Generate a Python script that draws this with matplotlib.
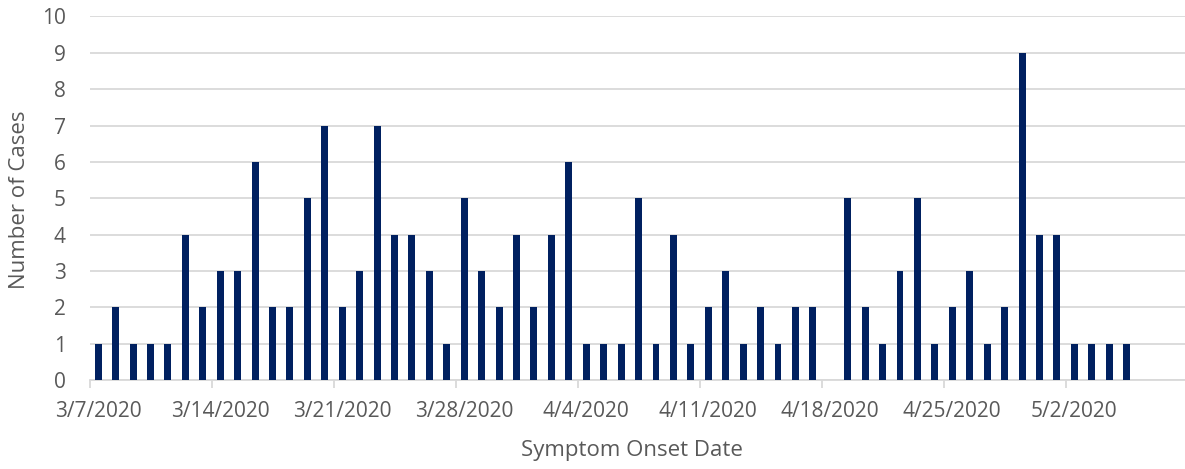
import numpy as np
import pandas as pd
import matplotlib
matplotlib.use('Agg')
from matplotlib import pyplot as plt

plt.rcParams['font.family'] = ['Open Sans', 'DejaVu Sans']

start = '2020-03-07'
cases = [1, 2, 1, 1, 1, 4, 2, 3, 3, 6,
         2, 2, 5, 7, 2, 3, 7, 4, 4, 3,
         1, 5, 3, 2, 4, 2, 4, 6, 1, 1,
         1, 5, 1, 4, 1, 2, 3, 1, 2, 1,
         2, 2, 0, 5, 2, 1, 3, 5, 1, 2,
         3, 1, 2, 9, 4, 4, 1, 1, 1, 1,
         0, 0]
dates = pd.date_range(start, periods=len(cases))
yticks = list(range(0, 11))

bar_col = '#002060'
txt_col = '#595959'
grid_col = '#d9d9d9'

fig = plt.figure(figsize=(11.85, 4.69), dpi=100)
ax = fig.add_axes([89.5/1185, 89/469, 1 - 89.5/1185, (380-16.5)/469])

x = np.arange(len(dates))
ax.bar(x, cases, width=0.4, color=bar_col, zorder=3)

ax.set_xlim(-0.5, 62.35)
ax.set_ylim(0, 10)
ax.set_yticks(yticks)
ax.yaxis.grid(True, color=grid_col, linewidth=1.3, zorder=0)
ax.tick_params(axis='y', length=0, pad=17, labelsize=15, labelcolor=txt_col)

# tick marks sit between days, labels sit under the day
lab_idx = x[::7]
ax.set_xticks(lab_idx - 0.5)
ax.set_xticklabels([])
ax.set_xticks(lab_idx, minor=True)
ax.set_xticklabels([f'{d.month}/{d.day}/{d.year}' for d in dates[lab_idx]], minor=True)
ax.tick_params(axis='x', which='major', length=6, width=1.3, color=grid_col)
ax.tick_params(axis='x', which='minor', length=0, pad=15, labelsize=15, labelcolor=txt_col)

for s in ['top', 'right', 'left']:
    ax.spines[s].set_visible(False)
ax.spines['bottom'].set_color(grid_col)
ax.spines['bottom'].set_linewidth(1.3)

fig.text(632/1185, 1 - 450/469, 'Symptom Onset Date', ha='center', va='center', fontsize=16, color=txt_col)
fig.text(20/1185, 1 - 200/469, 'Number of Cases', ha='center', va='center', rotation=90, fontsize=16, color=txt_col)

fig.savefig('out.png', dpi=100)
